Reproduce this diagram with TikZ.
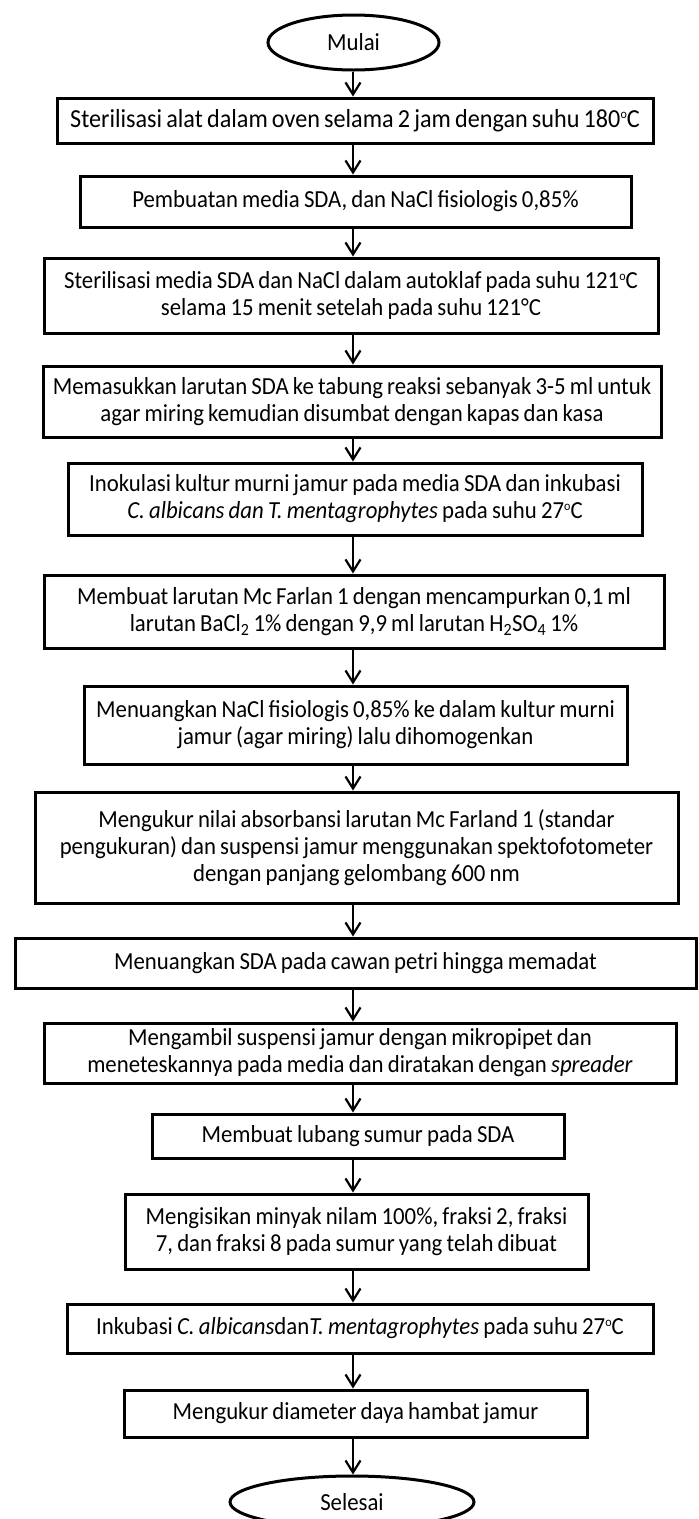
\documentclass[tikz,border=0pt]{standalone}
\usepackage{fontspec}
\setmainfont{Carlito}[FakeStretch=0.93]
\usetikzlibrary{arrows.meta,shapes.geometric}
\newcommand{\bodyfnt}{\fontsize{24.5}{27}\selectfont\spaceskip=0.17em plus 0.05em\relax}
\newcommand{\degsup}{\raisebox{0.72ex}{\fontsize{13}{13}\selectfont o}}
\begin{document}
\begin{tikzpicture}[x=1pt,y=-1pt,
  proc/.style={draw, line width=3pt, rectangle, align=center, inner sep=0pt, font=\bodyfnt},
  term/.style={draw, ellipse, line width=3pt, inner sep=0pt, font=\bodyfnt},
  arr/.style={line width=2.2pt, -{Straight Barb[length=12pt,width=15pt]}}]
\useasboundingbox (0,0) rectangle (699,1519);
\coordinate (axis) at (353,0);
\node[term, minimum width=171pt, minimum height=55pt] (start) at (353.5,42.5) {Mulai};
\node[proc, minimum width=596pt, minimum height=45pt] (b1) at (355,120.5) {\fontsize{26}{27}\selectfont Sterilisasi alat dalam oven selama 2 jam dengan suhu 180\degsup C};
\node[proc, minimum width=551pt, minimum height=51pt] (b2) at (355.5,201.5) {Pembuatan media SDA, dan NaCl fisiologis 0,85\%};
\node[proc, minimum width=614pt, minimum height=75pt] (b3) at (351,295.5) {Sterilisasi media SDA dan NaCl dalam autoklaf pada suhu 121\degsup C\\selama 15 menit setelah pada suhu 121°C};
\node[proc, minimum width=618pt, minimum height=71pt] (b4) at (352,401.5) {Memasukkan larutan SDA ke tabung reaksi sebanyak 3-5 ml untuk\\agar miring kemudian disumbat dengan kapas dan kasa};
\node[proc, minimum width=574pt, minimum height=72pt] (b5) at (355,499) {Inokulasi kultur murni jamur pada media SDA dan inkubasi\\\textit{C. albicans dan T. mentagrophytes} pada suhu 27\degsup C};
\node[proc, minimum width=620pt, minimum height=73pt] (b6) at (354,611.5) {Membuat larutan Mc Farlan 1 dengan mencampurkan 0,1 ml\\larutan BaCl\textsubscript{2} 1\% dengan 9,9 ml larutan H\textsubscript{2}SO\textsubscript{4} 1\%};
\node[proc, minimum width=543pt, minimum height=78pt] (b7) at (355.5,725) {Menuangkan NaCl fisiologis 0,85\% ke dalam kultur murni\\jamur (agar miring) lalu dihomogenkan};
\node[proc, minimum width=643pt, minimum height=111pt] (b8) at (356.5,847.5) {Mengukur nilai absorbansi larutan Mc Farland 1 (standar\\pengukuran) dan suspensi jamur menggunakan spektofotometer\\dengan panjang gelombang 600 nm};
\node[proc, minimum width=681pt, minimum height=50pt] (b9) at (355.5,963) {Menuangkan SDA pada cawan petri hingga memadat};
\node[proc, minimum width=632pt, minimum height=60pt] (b10) at (360,1053) {Mengambil suspensi jamur dengan mikropipet dan\\meneteskannya pada media dan diratakan dengan \textit{spreader}};
\node[proc, minimum width=412pt, minimum height=44pt] (b11) at (358,1136) {Membuat lubang sumur pada SDA};
\node[proc, minimum width=463pt, minimum height=75pt] (b12) at (356.5,1231.5) {Mengisikan minyak nilam 100\%, fraksi 2, fraksi\\7, dan fraksi 8 pada sumur yang telah dibuat};
\node[proc, minimum width=586pt, minimum height=49pt] (b13) at (360,1328.5) {Inkubasi \textit{C. albicans}dan\textit{T. mentagrophytes} pada suhu 27\degsup C};
\node[proc, minimum width=463pt, minimum height=47pt] (b14) at (355.5,1413.5) {Mengukur diameter daya hambat jamur};
\node[term, minimum width=244pt, minimum height=52pt] (end) at (352,1502) {Selesai};
\foreach \a/\b in {start/b1,b1/b2,b2/b3,b3/b4,b4/b5,b5/b6,b6/b7,b7/b8,b8/b9,b9/b10,b10/b11,b11/b12,b12/b13,b13/b14,b14/end}
  \draw[arr] (\a.south -| axis) -- (\b.north -| axis);
\end{tikzpicture}
\end{document}
